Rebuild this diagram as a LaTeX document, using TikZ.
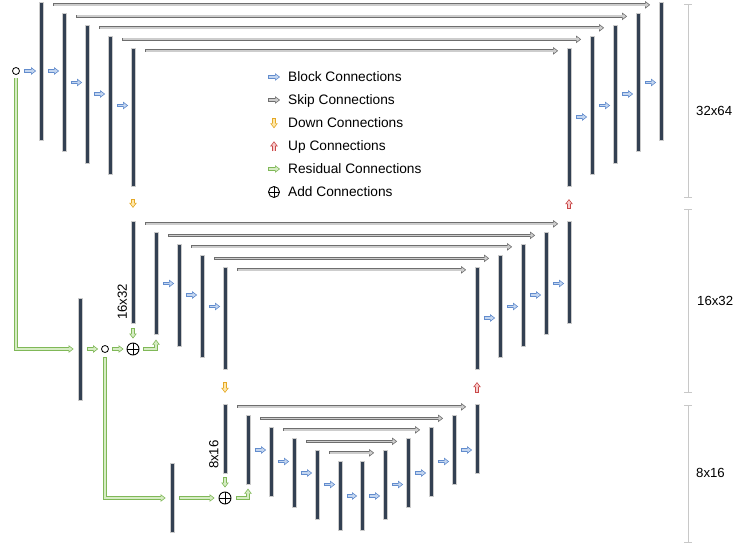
\documentclass[tikz,border=0pt]{standalone}
\usepackage{fontspec}
\setmainfont{Liberation Sans}
\usetikzlibrary{positioning,calc,arrows.meta}
\definecolor{barcol}{RGB}{51,64,82}
\definecolor{blockline}{RGB}{98,140,205}
\definecolor{blockfill}{RGB}{196,214,240}
\definecolor{skipline}{RGB}{110,110,110}
\definecolor{skipfill}{RGB}{205,205,205}
\definecolor{downline}{RGB}{228,168,38}
\definecolor{downfill}{RGB}{255,232,170}
\definecolor{upline}{RGB}{200,72,72}
\definecolor{upfill}{RGB}{248,205,205}
\definecolor{resline}{RGB}{128,184,88}
\definecolor{resfill}{RGB}{214,236,196}
\definecolor{dimcol}{RGB}{200,200,200}

\begin{document}
\begin{tikzpicture}
	[   x=1pt,y=-1pt,
		bar/.style={draw=gray!40,line width=0.3pt,fill=barcol,inner sep=0pt,minimum width=4.5pt,minimum height=#1},
		dot/.style={circle,draw=black,line width=0.8pt,minimum size=7pt,inner sep=0pt},
		addc/.style={circle,draw=black,line width=0.9pt,minimum size=#1,inner sep=0pt,
			path picture={\draw[line width=0.9pt] (path picture bounding box.north) -- (path picture bounding box.south)
				(path picture bounding box.west) -- (path picture bounding box.east);}},
		lbl/.style={inner sep=0pt,font=\fontsize{13.2}{15}\selectfont},
		leg/.style={inner sep=0pt,font=\fontsize{13.7}{16}\selectfont,anchor=base west},
	]
	\tikzset{hollow/.style 2 args={preaction={draw=#1,line width=3.2pt,shorten <=0pt,shorten >=0pt,
				-{Triangle[length=5pt,width=7.5pt,line width=0.6pt,fill=#2]}},
			draw=#2,line width=1.7pt,shorten <=0.6pt,shorten >=2.5pt},
		block arrow/.style={hollow={blockline}{blockfill}},
		skip arrow/.style={hollow={skipline}{skipfill}},
		down arrow/.style={hollow={downline}{downfill}},
		up arrow/.style={hollow={upline}{upfill}},
		res arrow/.style={hollow={resline}{resfill}},
		dim line/.style={draw=dimcol,line width=0.8pt,{Bar[width=8pt,line width=0.8pt]}-{Bar[width=8pt,line width=0.8pt]}}}
	\useasboundingbox (0,0) rectangle (733,548);
	
	% the three levels
	\foreach \i in {1,...,5}
	{
		\node[bar=138] (t-\i) at ({41+23*(\i-1)},{71+11.5*(\i-1)}) {};
		\node[bar=138] (tr-\i) at ({661-23*(\i-1)},{71+11.5*(\i-1)}) {};
		\node[bar=102] (m-\i) at ({133+23*(\i-1)},{272+11.5*(\i-1)}) {};
		\node[bar=102] (mr-\i) at ({569-23*(\i-1)},{272+11.5*(\i-1)}) {};
	}
	\foreach \i in {1,...,6}
	{
		\node[bar=69] (b-\i) at ({225+23*(\i-1)},{438.5+11.5*(\i-1)}) {};
		\node[bar=69] (br-\i) at ({477-23*(\i-1)},{438.5+11.5*(\i-1)}) {};
	}
	\node[bar=102] (l-1) at (80,349) {};
	\node[bar=69] (l-2) at (172,498) {};
	\node[dot] (c-1) at (16,71) {};
	\node[dot] (c-2) at (105,349) {};
	\node[addc=12pt] (a-1) at (133,349) {};
	\node[addc=12pt] (a-2) at (225,498) {};
	
	% skip connections
	\foreach \i in {1,...,5}
	{
		\draw[skip arrow] ($(t-\i.north east)+(10,3)$) -- ($(tr-\i.north west)+(-8.5,3)$);
		\draw[skip arrow] ($(m-\i.north east)+(10,3)$) -- ($(mr-\i.north west)+(-8.5,3)$);
		\draw[skip arrow] ($(b-\i.north east)+(10,3)$) -- ($(br-\i.north west)+(-8.5,3)$);
	}
	
	% block connections
	\draw[block arrow] ($(c-1.east)+(4,0)$) -- ($(c-1.east -| t-1.west)+(-2.5,0)$);
	\foreach \i in {1,...,4}
	{
		\pgfmathtruncatemacro\j{\i+1}
		\draw[block arrow] ($(t-\i.east)+(4.5,0)$) -- ($(t-\i.east -| t-\j.west)+(-2.5,0)$);
		\draw[block arrow] ($(tr-\j.east)+(4.5,0)$) -- ($(tr-\j.east -| tr-\i.west)+(-2.5,0)$);
		\draw[block arrow] ($(mr-\j.east)+(4.5,0)$) -- ($(mr-\j.east -| mr-\i.west)+(-2.5,0)$);
		\ifnum \i>1
		\draw[block arrow] ($(m-\i.east)+(4.5,0)$) -- ($(m-\i.east -| m-\j.west)+(-2.5,0)$);
		\fi
	}
	\foreach \i in {1,...,5}
	{
		\pgfmathtruncatemacro\j{\i+1}
		\draw[block arrow] ($(br-\j.east)+(4.5,0)$) -- ($(br-\j.east -| br-\i.west)+(-2.5,0)$);
		\ifnum \i>1
		\draw[block arrow] ($(b-\i.east)+(4.5,0)$) -- ($(b-\i.east -| b-\j.west)+(-2.5,0)$);
		\fi
	}
	\draw[block arrow] ($(b-6.east)+(4.5,0)$) -- ($(b-6.east -| br-6.west)+(-2.5,0)$);
	
	% down and up
	\draw[down arrow] ($(t-5.south)+(0,13)$) -- ($(m-1.north)+(0,-13)$);
	\draw[down arrow] ($(m-5.south)+(0,13)$) -- ($(b-1.north)+(0,-11)$);
	\draw[up arrow] ($(mr-1.north)+(0,-12)$) -- ($(tr-5.south)+(0,13)$);
	\draw[up arrow] ($(br-1.north)+(0,-11)$) -- ($(mr-5.south)+(0,13)$);
	
	% residual connections
	\draw[res arrow] ($(c-1.south)+(0,3)$) |- ($(l-1.west)+(-4,0)$);
	\draw[res arrow] ($(l-1.east)+(4.5,0)$) -- ($(c-2.west)+(-3,0)$);
	\draw[res arrow] ($(c-2.east)+(3,0)$) -- ($(a-1.west)+(-3,0)$);
	\draw[res arrow] ($(m-1.south)+(0,5)$) -- ($(a-1.north)+(0,-4)$);
	\draw[res arrow] ($(a-1.east)+(4,0)$) -| ($(m-2.south)+(0,5)$);
	\draw[res arrow] ($(c-2.south)+(0,4)$) |- ($(l-2.west)+(-4,0)$);
	\draw[res arrow] ($(l-2.east)+(5,0)$) -- ($(a-2.west)+(-4,0)$);
	\draw[res arrow] ($(b-1.south)+(0,4)$) -- ($(a-2.north)+(0,-4)$);
	\draw[res arrow] ($(a-2.east)+(5,0)$) -| ($(b-2.south)+(0,4)$);
	
	\node[lbl,rotate=90,anchor=south west] (n-m) at ($(m-1.south west)+(-3.5,-3)$) {16x32};
	\node[lbl,rotate=90,anchor=south west] (n-b) at ($(b-1.south west)+(-4,-4)$) {8x16};
	
	% sizes
	\draw[dim line] (688,4) -- (688,198);
	\draw[dim line] (688,209) -- (688,393);
	\draw[dim line] (688,405) -- (688,543);
	\node[lbl,anchor=west] (d-1) at (696,111) {32x64};
	\node[lbl,anchor=west] (d-2) at (697,301) {16x32};
	\node[lbl,anchor=west] (d-3) at (696,473) {8x16};
	
	% legend
	\node[leg] (g-1) at (288,81.8) {Block Connections};
	\node[leg] (g-2) at (288,104.8) {Skip Connections};
	\node[leg] (g-3) at (288,127.8) {Down Connections};
	\node[leg] (g-4) at (288,150.8) {Up Connections};
	\node[leg] (g-5) at (288,173.8) {Residual Connections};
	\node[leg] (g-6) at (288,196.8) {Add Connections};
	\draw[block arrow] ($(g-1.base west)+(-20,-4.8)$) -- ($(g-1.base west)+(-8,-4.8)$);
	\draw[skip arrow] ($(g-2.base west)+(-20,-4.8)$) -- ($(g-2.base west)+(-8,-4.8)$);
	\draw[down arrow] ($(g-3.base west)+(-14,-9.5)$) -- ($(g-3.base west)+(-14,0.5)$);
	\draw[up arrow] ($(g-4.base west)+(-14,0.5)$) -- ($(g-4.base west)+(-14,-9.5)$);
	\draw[res arrow] ($(g-5.base west)+(-20,-4.8)$) -- ($(g-5.base west)+(-8,-4.8)$);
	\node[addc=11pt] (g-add) at ($(g-6.base west)+(-14,-4.8)$) {};
\end{tikzpicture}
\end{document}
